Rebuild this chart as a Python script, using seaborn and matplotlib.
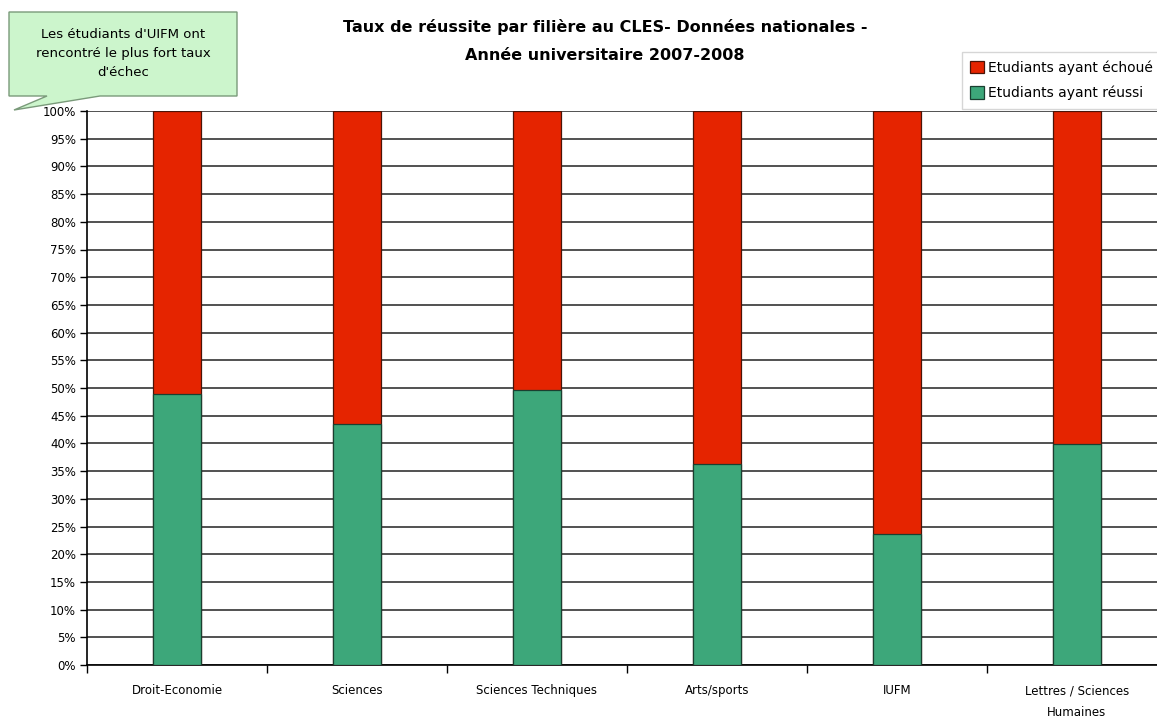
import matplotlib
matplotlib.use("Agg")
import matplotlib.pyplot as plt
from matplotlib.patches import Polygon
from matplotlib.ticker import MultipleLocator, FuncFormatter
import pandas as pd
import seaborn as sns

# Données (en %)
filieres = ["Droit-Economie", "Sciences", "Sciences Techniques", "Arts/sports",
            "IUFM", "Lettres / Sciences\nHumaines"]
reussi = [48.9, 43.5, 49.6, 36.3, 23.6, 39.9]
echoue = [51.1, 56.5, 50.4, 63.7, 76.4, 60.1]

ROUGE = "#E52400"
VERT = "#3DA77A"

df = pd.DataFrame({"filiere": filieres, "reussi": reussi, "echoue": echoue})
df["total"] = df["reussi"] + df["echoue"]

sns.set_style("white")
plt.rcParams["font.family"] = ["DejaVu Sans"]
plt.rcParams["text.color"] = "black"
plt.rcParams["xtick.color"] = "black"
plt.rcParams["ytick.color"] = "black"

W, H = 1157, 718
fig = plt.figure(figsize=(W / 100, H / 100), dpi=100)
ax = fig.add_axes([87 / W, 1 - 665 / H, 1080 / W, (665 - 111) / H])

# barres empilées : total (échoué) en rouge, puis réussi par-dessus
sns.barplot(data=df, x="filiere", y="total", color=ROUGE, width=0.27,
            edgecolor="#4a1408", linewidth=0.9, saturation=1, ax=ax,
            label="Etudiants ayant échoué", zorder=3)
sns.barplot(data=df, x="filiere", y="reussi", color=VERT, width=0.27,
            edgecolor="#1a3f30", linewidth=0.9, saturation=1, ax=ax,
            label="Etudiants ayant réussi", zorder=4)
handles, labels = ax.get_legend_handles_labels()
if ax.get_legend() is not None:
    ax.get_legend().remove()

ax.set_ylim(0, 100)
ax.set_xlim(-0.5, len(filieres) - 0.5)
ax.yaxis.set_major_locator(MultipleLocator(5))
ax.yaxis.set_major_formatter(FuncFormatter(lambda v, p: f"{v:.0f}%"))
ax.grid(axis="y", color="#222222", linewidth=1.1, zorder=0)
ax.set_axisbelow(True)
ax.set_xlabel("")
ax.set_ylabel("")

for s in ["top", "right"]:
    ax.spines[s].set_visible(False)
for s in ["left", "bottom"]:
    ax.spines[s].set_color("black")
    ax.spines[s].set_linewidth(1.2)

ax.tick_params(axis="y", labelsize=8.5, length=5, width=1, color="black",
               left=True, pad=3)
ax.tick_params(axis="x", labelsize=8.5, length=0, pad=14)
ax.set_xticks(range(len(filieres)))
ax.set_xticklabels(filieres, ha="center", linespacing=1.9)
# petits traits entre catégories
ax.set_xticks([i - 0.5 for i in range(len(filieres) + 1)], minor=True)
ax.tick_params(axis="x", which="minor", length=6, width=1, color="black",
               bottom=True, direction="out")

fig.text(605 / W, 1 - 27 / H,
         "Taux de réussite par filière au CLES- Données nationales -",
         ha="center", va="center", fontsize=11.5, fontweight="bold")
fig.text(605 / W, 1 - 55 / H, "Année universitaire 2007-2008",
         ha="center", va="center", fontsize=11.5, fontweight="bold")

leg = fig.legend(handles, labels, loc="upper right",
                 bbox_to_anchor=(1.004, 1 - 52 / H), fontsize=10,
                 frameon=True, fancybox=False, edgecolor="#cccccc",
                 handlelength=1.0, handleheight=1.0, handletextpad=0.3,
                 borderpad=0.6, labelspacing=0.8, borderaxespad=0)
leg.get_frame().set_linewidth(1.0)

# bulle de commentaire
pts = [(9, 12), (237, 12), (237, 96), (100, 96), (14, 110), (47, 96), (9, 96)]
bulle = Polygon([(x / W, 1 - y / H) for x, y in pts], closed=True,
                transform=fig.transFigure, facecolor="#CCF5CC",
                edgecolor="#7a9a7a", linewidth=1, zorder=10)
fig.patches.append(bulle)
fig.text(123 / W, 1 - 54 / H,
         "Les étudiants d'UIFM ont\nrencontré le plus fort taux\nd'échec",
         ha="center", va="center", fontsize=9.5, linespacing=1.6, zorder=11)

fig.savefig("out.png", dpi=100)
